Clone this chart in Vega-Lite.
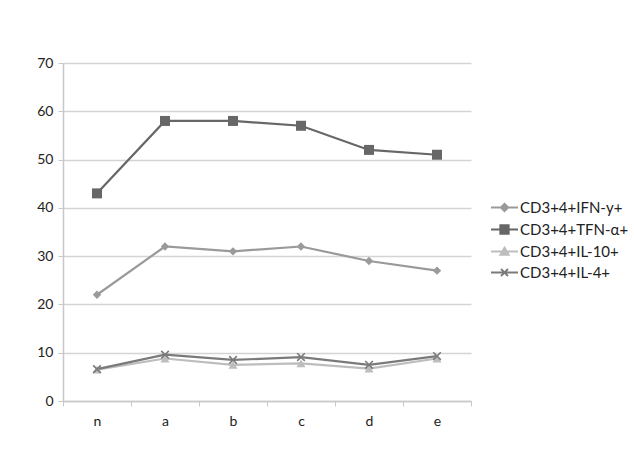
{
  "$schema": "https://vega.github.io/schema/vega-lite/v6.json",
  "width": 408,
  "height": 338,
  "autosize": {"type": "none"},
  "padding": {"left": 63, "top": 63, "right": 163, "bottom": 72},
  "background": "white",
  "config": {
    "font": "Lato",
    "view": {"stroke": null},
    "axis": {"labelFont": "Lato", "labelFontSize": 14, "labelColor": "#222", "titleFont": "Lato"},
    "legend": {"labelFont": "Lato", "labelFontSize": 15, "labelColor": "#222", "labelLimit": 200}
  },
  "data": {
    "values": [
      {"cat": "n", "series": "CD3+4+IFN-y+", "v": 22},
      {"cat": "a", "series": "CD3+4+IFN-y+", "v": 32},
      {"cat": "b", "series": "CD3+4+IFN-y+", "v": 31},
      {"cat": "c", "series": "CD3+4+IFN-y+", "v": 32},
      {"cat": "d", "series": "CD3+4+IFN-y+", "v": 29},
      {"cat": "e", "series": "CD3+4+IFN-y+", "v": 27},
      {"cat": "n", "series": "CD3+4+TFN-α+", "v": 43},
      {"cat": "a", "series": "CD3+4+TFN-α+", "v": 58},
      {"cat": "b", "series": "CD3+4+TFN-α+", "v": 58},
      {"cat": "c", "series": "CD3+4+TFN-α+", "v": 57},
      {"cat": "d", "series": "CD3+4+TFN-α+", "v": 52},
      {"cat": "e", "series": "CD3+4+TFN-α+", "v": 51},
      {"cat": "n", "series": "CD3+4+IL-10+", "v": 6.5},
      {"cat": "a", "series": "CD3+4+IL-10+", "v": 8.8},
      {"cat": "b", "series": "CD3+4+IL-10+", "v": 7.5},
      {"cat": "c", "series": "CD3+4+IL-10+", "v": 7.8},
      {"cat": "d", "series": "CD3+4+IL-10+", "v": 6.7},
      {"cat": "e", "series": "CD3+4+IL-10+", "v": 8.8},
      {"cat": "n", "series": "CD3+4+IL-4+", "v": 6.6},
      {"cat": "a", "series": "CD3+4+IL-4+", "v": 9.6},
      {"cat": "b", "series": "CD3+4+IL-4+", "v": 8.5},
      {"cat": "c", "series": "CD3+4+IL-4+", "v": 9.1},
      {"cat": "d", "series": "CD3+4+IL-4+", "v": 7.5},
      {"cat": "e", "series": "CD3+4+IL-4+", "v": 9.3}
    ]
  },
  "encoding": {
    "x": {
      "field": "cat", "type": "nominal", "sort": ["n", "a", "b", "c", "d", "e"],
      "scale": {"paddingInner": 0, "paddingOuter": 0},
      "axis": {"title": null, "labelAngle": 0, "labelPadding": 8, "tickBand": "extent", "domainColor": "#c8c8c8", "tickColor": "#c8c8c8", "tickSize": 5, "domainWidth": 1.5, "grid": false}
    },
    "y": {
      "field": "v", "type": "quantitative",
      "scale": {"domain": [0, 70], "nice": false},
      "axis": {"title": null, "values": [0, 10, 20, 30, 40, 50, 60, 70], "gridColor": "#d4d4d4", "gridWidth": 1.5, "domainColor": "#c8c8c8", "domainWidth": 1.5, "tickColor": "#c8c8c8", "tickSize": 5, "labelPadding": 5}
    },
    "color": {
      "field": "series", "type": "nominal",
      "scale": {"domain": ["CD3+4+IFN-y+", "CD3+4+TFN-α+", "CD3+4+IL-10+", "CD3+4+IL-4+"], "range": ["#9a9a9a", "#676767", "#bdbdbd", "#7a7a7a"]},
      "legend": {"title": null, "orient": "none", "legendX": 434, "legendY": 137, "rowPadding": 5, "symbolSize": 100, "labelOffset": 8, "symbolStrokeWidth": 1.8}
    }
  },
  "layer": [
    {
      "mark": {"type": "point", "filled": false, "opacity": 1, "strokeWidth": 1.8},
      "encoding": {
        "fill": {
          "field": "series", "type": "nominal",
          "scale": {"domain": ["CD3+4+IFN-y+", "CD3+4+TFN-α+", "CD3+4+IL-10+", "CD3+4+IL-4+"], "range": ["#9a9a9a", "#676767", "#bdbdbd", "#7a7a7a"]},
          "legend": {"title": null, "orient": "none", "legendX": 434, "legendY": 137, "rowPadding": 5, "symbolSize": 100, "labelOffset": 8, "symbolStrokeWidth": 1.8}
        },
        "shape": {
          "field": "series", "type": "nominal",
          "scale": {"domain": ["CD3+4+IFN-y+", "CD3+4+TFN-α+", "CD3+4+IL-10+", "CD3+4+IL-4+"], "range": ["M-2.7,0H2.7M0,-0.75L0.75,0L0,0.75L-0.75,0Z", "M-2.7,0H2.7M-0.85,-0.85H0.85V0.85H-0.85Z", "M-2.7,0H2.7M0,-0.8L0.85,0.65H-0.85Z", "M-2.7,0H2.7M-0.7,-0.7L0.7,0.7M-0.7,0.7L0.7,-0.7"]},
          "legend": {"title": null, "orient": "none", "legendX": 434, "legendY": 137, "rowPadding": 5, "symbolSize": 100, "labelOffset": 8, "symbolStrokeWidth": 1.8}
        },
        "size": {"value": 0}
      }
    },
    {
      "mark": {"type": "line", "strokeWidth": 2.2}
    },
    {
      "transform": [{"filter": "datum.series === 'CD3+4+IFN-y+'"}],
      "mark": {"type": "point", "filled": true, "opacity": 1, "shape": "diamond", "size": 70}
    },
    {
      "transform": [{"filter": "datum.series === 'CD3+4+TFN-α+'"}],
      "mark": {"type": "point", "filled": true, "opacity": 1, "shape": "square", "size": 100}
    },
    {
      "transform": [{"filter": "datum.series === 'CD3+4+IL-10+'"}],
      "mark": {"type": "point", "filled": true, "opacity": 1, "shape": "triangle-up", "size": 80}
    },
    {
      "transform": [{"filter": "datum.series === 'CD3+4+IL-4+'"}],
      "mark": {"type": "point", "filled": false, "opacity": 1, "shape": "M-0.8,-0.8L0.8,0.8M-0.8,0.8L0.8,-0.8", "size": 90, "strokeWidth": 1.6}
    }
  ]
}
